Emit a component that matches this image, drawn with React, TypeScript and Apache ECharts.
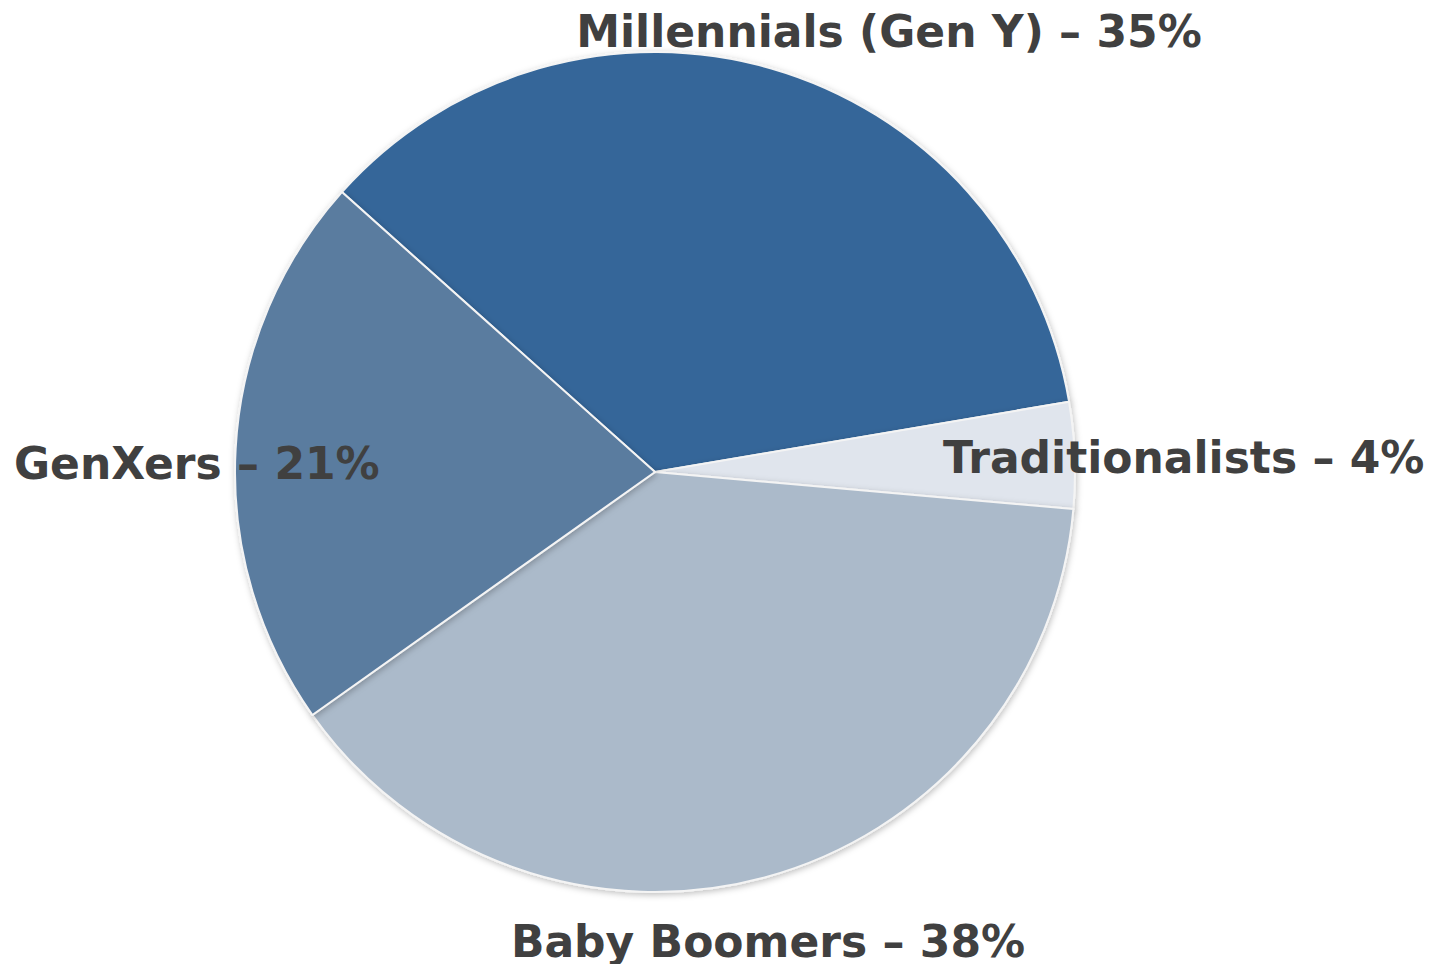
import React, { useEffect, useRef } from "react";
import * as echarts from "echarts";

const categories = ["Millennials (Gen Y)", "Traditionalists", "Baby Boomers", "GenXers"];
const values = [35, 4, 38, 21];
const colors = ["#346699", "#E0E5ED", "#ABBACA", "#5A7B9F"];

// label anchor positions (page pixels)
const labelAnchors = [
  { x: 889, y: 31, align: "center" },
  { x: 943, y: 457, align: "left" },
  { x: 768, y: 941, align: "center" },
  { x: 14, y: 463, align: "left" },
];

export default function App() {
  const ref = useRef<HTMLDivElement>(null);
  useEffect(() => {
    document.body.style.margin = "0";
    const chart = echarts.init(ref.current!, null, { renderer: "svg" });
    chart.setOption({
      animation: false,
      backgroundColor: "#ffffff",
      series: [
        {
          type: "pie",
          center: [655, 472],
          radius: 420,
          startAngle: 138.2,
          clockwise: true,
          data: categories.map((c, i) => ({
            name: c,
            value: values[i],
            itemStyle: { color: colors[i] },
          })),
          itemStyle: {
            borderColor: "#f4f4f4",
            borderWidth: 2,
            shadowBlur: 6,
            shadowColor: "rgba(0,0,0,0.25)",
            shadowOffsetX: 1,
            shadowOffsetY: 2,
          },
          label: {
            show: true,
            position: "outside",
            formatter: (p: any) => `${p.name} – ${p.value}%`,
            fontFamily: "DejaVu Sans",
            fontWeight: "bold",
            fontSize: 44,
            color: "#404040",
            overflow: "none",
            width: 800,
          },
          labelLine: { show: false },
          labelLayout: (params: any) => {
            const a = labelAnchors[params.dataIndex];
            return { x: a.x, y: a.y, align: a.align, verticalAlign: "middle", hideOverlap: false, moveOverlap: null };
          },
          emphasis: { disabled: true },
        },
      ],
    });
    return () => chart.dispose();
  }, []);
  return <div ref={ref} style={{ position: "absolute", left: 0, top: 0, width: 1443, height: 964 }} />;
}
